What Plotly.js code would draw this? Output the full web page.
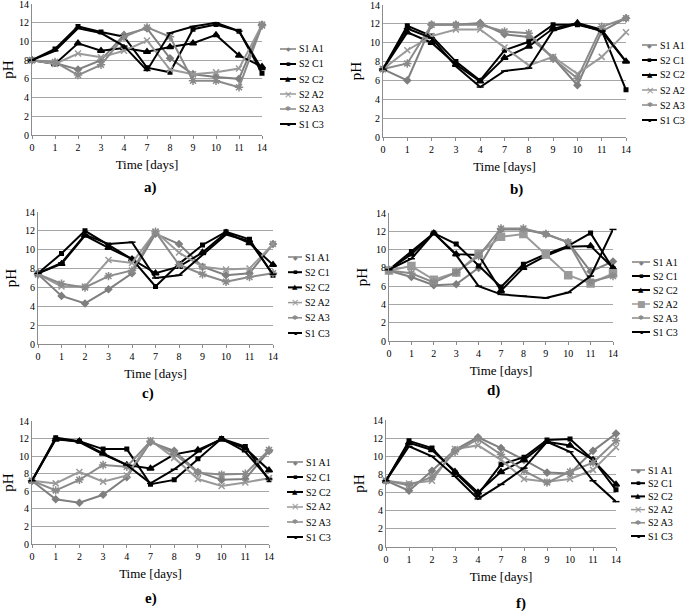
<!DOCTYPE html>
<html><head><meta charset="utf-8">
<script src="https://cdn.plot.ly/plotly-3.0.1.min.js"></script>
<style>html,body{margin:0;padding:0;background:#fff}#chart{width:685px;height:613px}</style>
</head><body><div id="chart"></div>
<script>
// ---------- data ----------
const days = ['0','1','2','3','4','7','8','9','10','11','14'];
const seriesNames = ['S1 A1','S2 C1','S2 C2','S2 A2','S2 A3','S1 C3'];
const panelLabels = ['a)','b)','c)','d)','e)','f)'];
const yTicks = [0,2,4,6,8,10,12,14];

// panel a
const a_S1A1 = [8.0,7.7,7.0,8.0,10.7,11.4,8.2,6.5,6.2,6.0,11.8];
const a_S2C1 = [8.0,9.2,11.6,11.0,10.5,7.2,6.7,11.3,11.8,11.1,6.6];
const a_S2C2 = [8.0,7.6,9.8,9.0,9.3,8.9,9.4,9.8,10.7,8.5,7.3];
const a_S2A2 = [8.0,7.6,8.7,8.3,9.0,10.1,7.0,6.5,6.7,7.1,11.8];
const a_S2A3 = [8.0,7.8,6.4,7.5,10.5,11.5,10.5,5.8,5.8,5.1,11.7];
const a_S1C3 = [8.0,9.0,11.4,10.9,9.5,6.9,10.9,11.6,12.0,11.1,7.0];
// panel b
const b_S1A1 = [7.2,6.0,11.9,11.9,12.1,10.9,10.6,8.4,5.5,11.2,12.6];
const b_S2C1 = [7.2,11.8,10.7,8.0,6.0,9.2,10.1,11.9,11.9,11.3,5.0];
const b_S2C2 = [7.2,11.1,10.0,7.7,5.9,8.4,9.6,11.5,12.1,11.4,8.0];
const b_S2A2 = [7.2,9.2,10.7,11.4,11.4,9.5,7.6,8.5,6.7,8.5,11.1];
const b_S2A3 = [7.2,7.8,11.9,11.9,11.9,11.2,11.0,8.3,6.2,11.7,12.6];
const b_S1C3 = [7.2,11.5,10.5,7.5,5.3,7.0,7.3,11.3,12.0,11.2,8.0];
// panel c
const c_S1A1 = [7.4,5.1,4.3,5.8,7.5,11.7,10.6,8.2,7.3,7.5,10.6];
const c_S2C1 = [7.5,9.6,12.0,10.5,9.0,6.1,8.5,10.5,11.9,11.1,7.3];
const c_S2C2 = [7.5,8.5,11.5,10.2,9.0,7.5,8.2,9.7,11.8,10.7,8.4];
const c_S2A2 = [7.4,6.1,6.1,8.9,8.6,11.9,9.7,8.2,7.9,8.0,10.6];
const c_S2A3 = [7.4,6.4,6.0,7.2,7.8,11.9,8.4,7.4,6.6,7.1,7.5];
const c_S1C3 = [7.5,8.6,11.6,10.6,10.8,7.0,7.3,9.5,11.6,10.9,7.4];
// panel d
const d_S1A1 = [7.7,7.0,6.1,6.2,8.0,12.2,12.2,11.7,10.8,7.6,8.7];
const d_S2C1 = [7.8,9.8,11.8,10.6,8.2,5.9,8.4,9.5,10.4,11.8,7.9];
const d_S2C2 = [7.8,9.5,11.8,9.5,9.4,5.5,8.0,9.3,10.3,10.4,8.0];
const d_S2A2 = [7.7,8.2,6.7,7.5,9.5,11.4,11.7,9.5,7.2,6.3,7.4];
const d_S2A3 = [7.7,7.4,6.4,7.5,9.3,12.3,12.3,11.7,10.8,6.5,7.1];
const d_S1C3 = [7.8,9.0,11.8,9.4,6.0,5.1,4.9,4.7,5.3,7.1,12.2];
// panel e
const e_S1A1 = [7.2,5.1,4.7,5.6,7.6,11.6,10.6,8.2,7.3,7.4,10.6];
const e_S2C1 = [7.2,12.1,11.7,10.8,10.8,6.8,7.3,9.7,12.0,11.1,7.3];
const e_S2C2 = [7.2,11.9,11.7,10.3,9.0,8.6,10.2,10.7,11.9,10.9,8.4];
const e_S2A2 = [7.2,6.9,8.2,7.1,7.8,11.8,9.8,7.4,6.6,7.0,7.5];
const e_S2A3 = [7.2,6.1,7.3,9.0,8.8,11.7,10.3,8.1,7.9,8.0,10.7];
const e_S1C3 = [7.2,12.0,11.6,10.2,9.0,6.9,8.5,10.5,12.0,10.5,7.4];
// panel f
const f_S1A1 = [7.3,6.2,8.4,10.7,12.1,10.9,9.6,8.2,8.1,10.6,12.5];
const f_S2C1 = [7.3,11.7,10.9,8.2,5.8,9.1,9.9,11.8,11.9,9.6,6.3];
const f_S2C2 = [7.3,11.5,10.7,8.3,6.0,8.3,9.6,11.6,11.2,9.6,6.9];
const f_S2A2 = [7.3,7.0,7.3,10.8,11.2,9.6,7.5,7.2,7.5,8.5,11.0];
const f_S2A3 = [7.3,6.8,7.7,10.5,11.9,10.2,8.4,7.1,8.3,9.3,11.7];
const f_S1C3 = [7.3,11.1,10.0,7.8,5.3,6.9,8.7,11.6,10.5,7.3,5.0];

const panelData = [
  [a_S1A1,a_S2C1,a_S2C2,a_S2A2,a_S2A3,a_S1C3],
  [b_S1A1,b_S2C1,b_S2C2,b_S2A2,b_S2A3,b_S1C3],
  [c_S1A1,c_S2C1,c_S2C2,c_S2A2,c_S2A3,c_S1C3],
  [d_S1A1,d_S2C1,d_S2C2,d_S2A2,d_S2A3,d_S1C3],
  [e_S1A1,e_S2C1,e_S2C2,e_S2A2,e_S2A3,e_S1C3],
  [f_S1A1,f_S2C1,f_S2C2,f_S2A2,f_S2A3,f_S1C3]
];

// ---------- styles & layout ----------
const W = 685, H = 613;
const FONT = 'Liberation Serif';
const styles = [
  {color:'#7f7f7f', symbol:'diamond', size:5, glyph:'\u25C6', gsize:6, lw:1.5},
  {color:'#000000', symbol:'square', size:3.5, glyph:'\u25AA', gsize:7, lw:2},
  {color:'#000000', symbol:'triangle-up', size:6, glyph:'\u25B2', gsize:7, lw:2},
  {color:'#9a9a9a', symbol:'x-thin-open', size:6, glyph:'\u00D7', gsize:10, lw:1.5},
  {color:'#8a8a8a', symbol:'asterisk-open', size:7, glyph:'\u2731', gsize:7, lw:1.5},
  {color:'#000000', symbol:'line-ew-open', size:5, glyph:'\u25AA', gsize:5, lw:2}
];
// plot boxes in pixels: [left, right, top, bottom]
const boxes = [
  [32,262,4,135],[383,626,5,137],
  [38,273,212,344],[389,613,213,341],
  [32,269,421,544],[386,616,420,547]
];
const labelPos = [[142,187],[525,190],[140,393],[502,390],[143,598],[528,603]];
// legend: [lineStart, lineEnd, rowTop, rowStep]
const legendGeo = [
  [280,296,49,15],[642,657,45,15],
  [288,302,257,15.2],[632,650,262,14],
  [287,303,462,15],[631,645,470,13.2]
];

const traces = [];
const layout = {
  width: W, height: H,
  margin:{l:0,r:0,t:0,b:0, autoexpand:false},
  paper_bgcolor:'#ffffff', plot_bgcolor:'#ffffff',
  showlegend:false,
  font:{family:FONT, color:'#000', size:10},
  annotations:[], shapes:[]
};

boxes.forEach((b,p)=>{
  const n = p===0 ? '' : String(p+1);
  const xa = 'x'+n, ya = 'y'+n;
  layout['xaxis'+n] = {
    type:'category', range:[0, days.length-1], anchor:ya, automargin:false,
    domain:[b[0]/W, b[1]/W],
    showgrid:false, showline:true, linecolor:'#8c8c8c', linewidth:1,
    ticks:'outside', ticklen:3, tickcolor:'#8c8c8c', ticklabeloverflow:'allow',
    tickfont:{family:FONT, size:10, color:'#000'},
    title:{text:'Time [days]', font:{family:FONT, size:13, color:'#000'}, standoff:7},
    fixedrange:true
  };
  layout['yaxis'+n] = {
    range:[0,14], anchor:xa, tickvals:yTicks, automargin:false,
    domain:[1-b[3]/H, 1-b[2]/H],
    showgrid:true, gridcolor:'#a6a6a6', gridwidth:1,
    showline:true, linecolor:'#8c8c8c', zeroline:false, ticklabeloverflow:'allow',
    ticks:'', tickfont:{family:FONT, size:10, color:'#000'},
    title:{text:'pH', font:{family:FONT, size:15, color:'#000'}, standoff:4},
    fixedrange:true
  };
  panelData[p].forEach((vals,s)=>{
    const st = styles[s];
    let sym = st.symbol, size = st.size;
    if (p===3 && s===3) { sym = 'square'; size = 7; }
    traces.push({
      type:'scatter', mode:'lines+markers', x:days, y:vals,
      xaxis:xa, yaxis:ya, name:seriesNames[s], cliponaxis:false,
      line:{color:st.color, width:2},
      marker:{symbol:sym, size:size, color:st.color, line:{color:st.color, width:1.5}}
    });
  });
  // panel label
  layout.annotations.push({
    xref:'paper', yref:'paper', x:labelPos[p][0]/W, y:1-labelPos[p][1]/H,
    text:'<b>'+panelLabels[p]+'</b>', showarrow:false, yanchor:'middle',
    font:{family:FONT, size:15, color:'#000'}
  });
  // legend (drawn as line + marker glyph + text)
  const g = legendGeo[p];
  seriesNames.forEach((nm,s)=>{
    const st = styles[s];
    const yy = 1 - (g[2] + g[3]*s)/H;
    layout.shapes.push({type:'line', xref:'paper', yref:'paper',
      x0:g[0]/W, x1:g[1]/W, y0:yy, y1:yy, line:{color:st.color, width:st.lw}});
    let glyph = st.glyph, gs = st.gsize;
    if (p===3 && s===3) { glyph = '\u25A0'; gs = 9; }
    layout.annotations.push({xref:'paper', yref:'paper', x:(g[0]+g[1])/2/W, y:yy,
      text:glyph, showarrow:false, xanchor:'center', yanchor:'middle',
      font:{family:'DejaVu Sans', size:gs, color:st.color}});
    layout.annotations.push({xref:'paper', yref:'paper', x:(g[1]+1)/W, y:yy,
      text:nm, showarrow:false, xanchor:'left', yanchor:'middle',
      font:{family:FONT, size:10, color:'#000'}});
  });
});

Plotly.newPlot('chart', traces, layout, {staticPlot:true, displayModeBar:false});
</script>
</body></html>
